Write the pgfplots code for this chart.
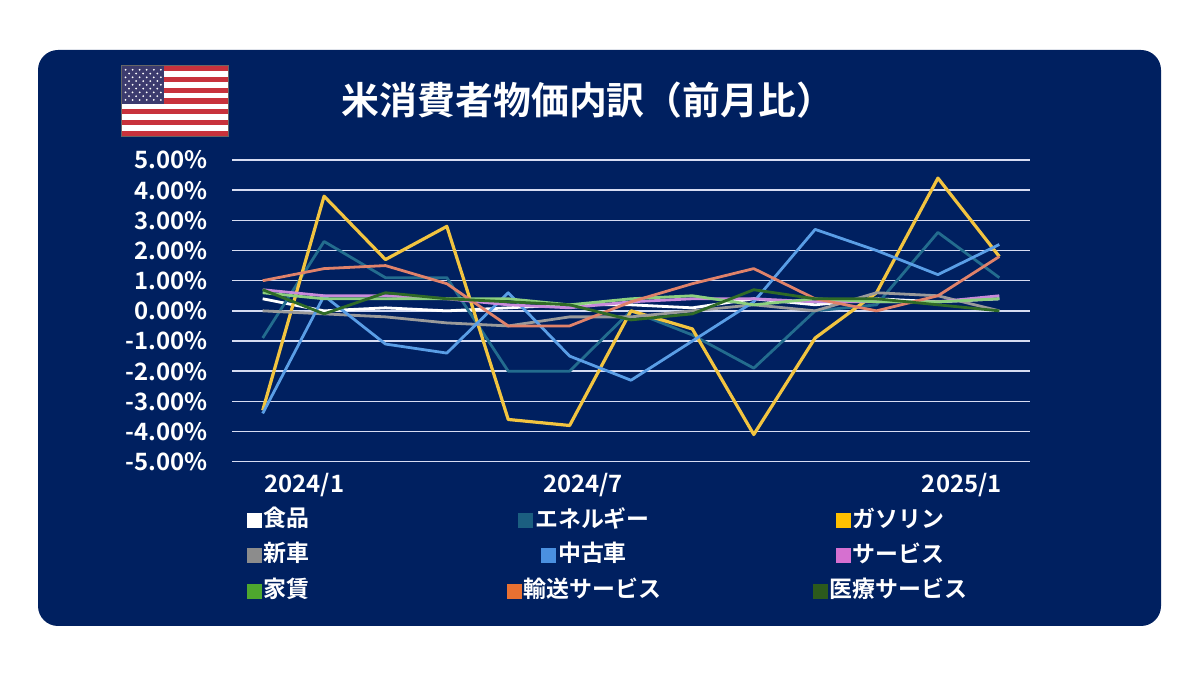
\documentclass[border=0pt]{standalone}
\usepackage{fontspec}
\setmainfont{Noto Sans CJK JP}[BoldFont={Noto Sans CJK JP Bold}]
\usepackage{pgfplots}
\pgfplotsset{compat=1.18}
\definecolor{navy}{HTML}{002060}
\definecolor{gridc}{HTML}{D6DCF2}
\definecolor{flagred}{HTML}{C8323C}
\definecolor{flagblue}{HTML}{3C3B6E}
% legend colours
\definecolor{lfood}{HTML}{FFFFFF}
\definecolor{lenergy}{HTML}{1B5E80}
\definecolor{lgas}{HTML}{FFC000}
\definecolor{lnew}{HTML}{8C8C8C}
\definecolor{lused}{HTML}{4A90E0}
\definecolor{lserv}{HTML}{D670D0}
\definecolor{lrent}{HTML}{4EA72E}
\definecolor{ltrans}{HTML}{E97132}
\definecolor{lmed}{HTML}{2C5A1C}
% line colours
\definecolor{cfood}{HTML}{FFFFFF}
\definecolor{cenergy}{HTML}{236C8E}
\definecolor{cgas}{HTML}{F2C440}
\definecolor{cnew}{HTML}{9A9A9A}
\definecolor{cused}{HTML}{5A9EE6}
\definecolor{cserv}{HTML}{C98ADB}
\definecolor{crent}{HTML}{8CCF7E}
\definecolor{ctrans}{HTML}{E0826A}
\definecolor{cmed}{HTML}{2F6A26}

\pgfplotstableread{
x food energy gas newcar used serv rent trans med
0  0.4 -0.9 -3.3  0.0 -3.4 0.7 0.6  1.0  0.7
1  0.0  2.3  3.8 -0.1  0.5 0.5 0.4  1.4 -0.1
2  0.1  1.1  1.7 -0.2 -1.1 0.5 0.4  1.5  0.6
3  0.0  1.1  2.8 -0.4 -1.4 0.4 0.4  0.9  0.4
4  0.1 -2.0 -3.6 -0.5  0.6 0.2 0.4 -0.5  0.3
5  0.2 -2.0 -3.8 -0.2 -1.5 0.1 0.2 -0.5  0.2
6  0.2  0.0  0.0 -0.2 -2.3 0.3 0.4  0.3 -0.3
7  0.1 -0.8 -0.6  0.0 -1.0 0.4 0.5  0.9 -0.1
8  0.4 -1.9 -4.1  0.2  0.3 0.4 0.2  1.4  0.7
9  0.2  0.0 -0.9  0.0  2.7 0.3 0.4  0.4  0.4
10 0.4  0.2  0.6  0.6  2.0 0.3 0.3  0.0  0.4
11 0.3  2.6  4.4  0.5  1.2 0.3 0.3  0.5  0.2
12 0.4  1.1  1.8  0.0  2.2 0.5 0.4  1.8  0.0
}\cpi

\begin{document}
\begin{tikzpicture}
\fill[white] (0,0) rectangle (600bp,337.5bp);
\fill[navy, rounded corners=10bp] (19bp,24.5bp) rectangle (580.5bp,312.5bp);
% flag
\begin{scope}
\fill[black!60] (60.5bp,269bp) rectangle (114.5bp,305bp);
\fill[white] (61bp,269.5bp) rectangle (114bp,304.5bp);
\foreach \i in {0,2,...,12}{
  \fill[flagred] (61bp,{304.5bp-\i*35bp/13}) rectangle (114bp,{304.5bp-(\i+1)*35bp/13});
}
\fill[flagblue] (61bp,304.5bp) rectangle (82.2bp,{304.5bp-7*35bp/13});
\foreach \r in {1,3,5,7,9}{
  \foreach \c in {1,...,6}{
    \fill[white] ({61bp+(2*\c-1)*21.2bp/12},{304.5bp-\r*18.85bp/10}) circle (0.5bp);
  }
}
\foreach \r in {2,4,6,8}{
  \foreach \c in {1,...,5}{
    \fill[white] ({61bp+(2*\c)*21.2bp/12},{304.5bp-\r*18.85bp/10}) circle (0.5bp);
  }
}
\end{scope}
\node[text=white, font=\bfseries\fontsize{19}{21}\selectfont] at (294bp,287.5bp) {米消費者物価内訳（前月比）};

\begin{axis}[
  at={(116bp,106.65bp)}, anchor=south west,
  scale only axis, width=399bp, height=150.85bp,
  xmin=-0.5, xmax=12.5, ymin=-5, ymax=5,
  ytick={-5,-4,-3,-2,-1,0,1,2,3,4,5},
  yticklabels={-5.00\%,-4.00\%,-3.00\%,-2.00\%,-1.00\%,0.00\%,1.00\%,2.00\%,3.00\%,4.00\%,5.00\%},
  xtick={0.68,5.22,11.39},
  xticklabels={2024/1,2024/7,2025/1},
  axis line style={draw=none},
  major tick length=0pt,
  ymajorgrids, grid style={gridc, line width=0.75bp},
  tick label style={text=white, font=\bfseries\fontsize{12}{14}\selectfont},
  /pgf/number format/assume math mode=true,
  yticklabel style={xshift=-8.5bp},
  xticklabel style={yshift=-2bp},
  every axis plot/.append style={line width=1.4bp, line join=round, no markers},
]
\addplot[cfood] table[x=x,y=food]{\cpi};
\addplot[cenergy] table[x=x,y=energy]{\cpi};
\addplot[cgas, line width=1.6bp] table[x=x,y=gas]{\cpi};
\addplot[cnew] table[x=x,y=newcar]{\cpi};
\addplot[cused] table[x=x,y=used]{\cpi};
\addplot[cserv] table[x=x,y=serv]{\cpi};
\addplot[crent] table[x=x,y=rent]{\cpi};
\addplot[ctrans] table[x=x,y=trans]{\cpi};
\addplot[cmed] table[x=x,y=med]{\cpi};
\end{axis}

\tikzset{leg/.style={text=white, font=\bfseries\fontsize{11.5}{13}\selectfont, anchor=center, inner sep=0pt}}
\newcommand{\sq}[1]{\textcolor{#1}{\rule[-0.6bp]{7.5bp}{7.5bp}}\hspace{1bp}}
\node[leg] at (139bp,78.5bp) {\sq{lfood}食品};
\node[leg] at (292bp,78.5bp) {\sq{lenergy}エネルギー};
\node[leg] at (445bp,78.5bp) {\sq{lgas}ガソリン};
\node[leg] at (139bp,61bp) {\sq{lnew}新車};
\node[leg] at (292bp,61bp) {\sq{lused}中古車};
\node[leg] at (445bp,61bp) {\sq{lserv}サービス};
\node[leg] at (139bp,43bp) {\sq{lrent}家賃};
\node[leg] at (292bp,43bp) {\sq{ltrans}輸送サービス};
\node[leg] at (445bp,43bp) {\sq{lmed}医療サービス};
\end{tikzpicture}
\end{document}
